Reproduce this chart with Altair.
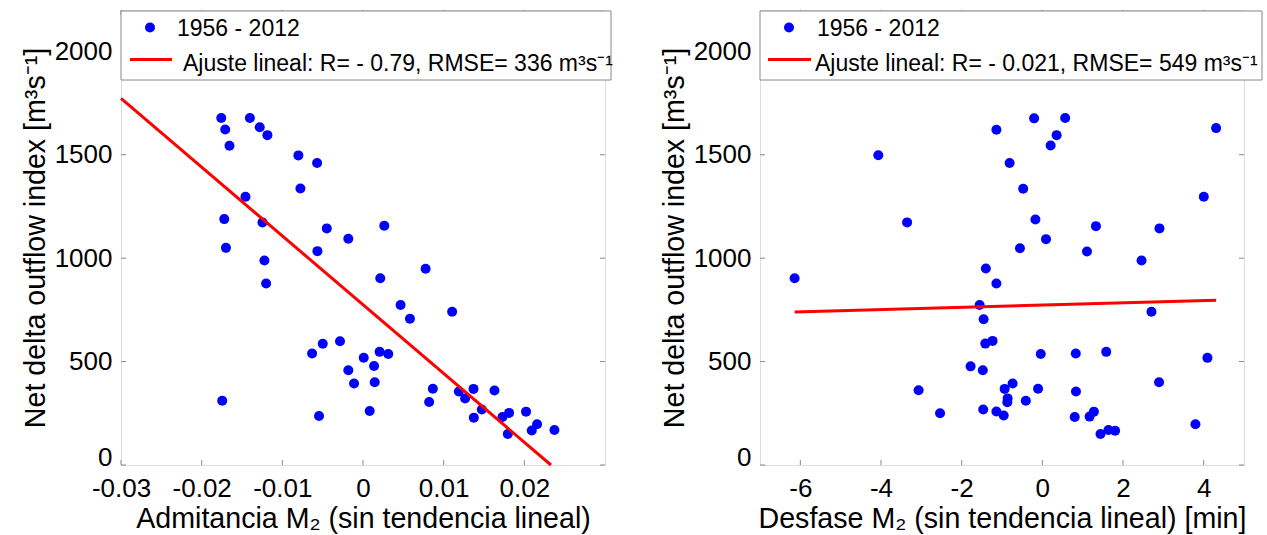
import altair as alt
import pandas as pd

# ---------------- data ----------------
adm_x = [-0.01757, -0.01708, -0.01655, -0.01402, -0.01280, -0.01185, -0.00801, -0.00569,
         -0.00776, -0.01457, -0.01720, -0.01246, -0.00449, -0.00182, -0.01699, -0.00565,
         -0.01222, -0.01201, 0.00264, 0.00214, 0.00776, 0.00466, 0.00582, 0.01105,
         -0.00631, -0.00499, -0.00285, 0.00009, 0.00206, 0.00313, -0.00182, 0.00137,
         -0.00111, 0.00145, -0.00545, 0.00083, 0.00866, 0.00820, 0.01188, 0.01266,
         0.01370, 0.01630, 0.01473, 0.01374, 0.01729, 0.01811, 0.02021, 0.01795,
         0.02092, 0.02158, 0.02373, -0.01745]
adm_y = [1678, 1622, 1544, 1678, 1633, 1595, 1497, 1460,
         1337, 1297, 1189, 1173, 1144, 1094, 1050, 1034,
         989, 878, 1157, 903, 949, 774, 707, 741,
         539, 586, 598, 519, 547, 537, 458, 479,
         394, 400, 237, 261, 369, 305, 355, 322,
         368, 360, 268, 229, 232, 252, 258, 150,
         167, 197, 169, 311]

des_x = [-1.139, -4.067, -3.353, -1.400, -1.139, -6.142, -1.555, -1.456,
         -1.414, -1.234, -1.779, -1.476, -3.068, -2.536, -0.737, -0.934,
         -0.860, -0.868, -1.466, -1.139, -0.958, -0.204, 0.566, 0.354,
         0.206, 4.308, -0.811, -0.475, 4.003, -0.172, 1.329, 2.904,
         0.091, -0.555, 1.107, 2.460, 2.706, -0.039, 0.829, 1.584,
         4.093, -0.409, -0.106, 0.834, 2.894, 0.803, 1.172, 1.278,
         1.442, 1.639, 1.804, 3.796]
des_y = [1621, 1498, 1173, 950, 878, 903, 774, 705,
         587, 600, 477, 458, 361, 250, 394, 368,
         322, 303, 268, 259, 239, 1676, 1678, 1595,
         1545, 1629, 1460, 1336, 1297, 1187, 1155, 1144,
         1092, 1048, 1032, 989, 741, 537, 539, 547,
         518, 311, 369, 355, 400, 232, 234, 258,
         150, 169, 166, 197]

# linear fits (end points of the drawn fit lines)
fit_adm_x = [-0.03, 0.0233]
fit_adm_y = [1773, 0]
fit_des_x = [-6.14, 4.31]
fit_des_y = [740, 797]

y_ticks = [0, 500, 1000, 1500, 2000]
adm_ticks = [-0.03, -0.02, -0.01, 0, 0.01, 0.02]
des_ticks = [-6, -4, -2, 0, 2, 4]

series_label = "1956 - 2012"
adm_fit_label = "Ajuste lineal: R= - 0.79, RMSE= 336 m\u00b3s\u207b\u00b9"
des_fit_label = "Ajuste lineal: R= - 0.021, RMSE= 549 m\u00b3s\u207b\u00b9"
y_title = "Net delta outflow index [m\u00b3s\u207b\u00b9]"
adm_title = "Admitancia M\u2082 (sin tendencia lineal)"
des_title = "Desfase M\u2082 (sin tendencia lineal) [min]"

# ---------------- styling ----------------
W, H = 484, 455
FONT = "Liberation Sans"
BLUE = "#0000ff"
RED = "#ff0000"
GRAY = "#888888"
TICK = 5
DOT = 100
MINUS_FIX = "replace(datum.label, '\u2212', '-')"


def panel(xs, ys, fx, fy, xdom, xticks, xfmt, xtitle, fit_label, box_w, leg):
    pts = pd.DataFrame({"x": xs, "y": ys})
    fit = pd.DataFrame({"x": fx, "y": fy})
    xscale = alt.Scale(domain=xdom, nice=False, zero=False)
    yscale = alt.Scale(domain=[0, 2200], nice=False, zero=False)

    xaxis = alt.Axis(values=xticks, format=xfmt, labelExpr=MINUS_FIX, ticks=False, tickSize=0,
                     domain=False, grid=False, labelFontSize=26, titleFontSize=28.6,
                     labelPadding=10, titlePadding=3, labelColor="black", titleColor="black",
                     labelFont=FONT, titleFont=FONT, titleFontWeight="normal",
                     labelFlush=False, labelOverlap=False)
    yaxis = alt.Axis(values=y_ticks, format="d", ticks=False, tickSize=0, domain=False, grid=False,
                     labelFontSize=26, titleFontSize=28.6, labelPadding=9, titlePadding=4,
                     labelColor="black", titleColor="black", labelFont=FONT, titleFont=FONT,
                     titleFontWeight="normal", labelOverlap=False,
                     labelBaseline={"condition": {"test": "datum.value === 0",
                                                  "value": "alphabetic"},
                                    "value": "middle"})

    X = alt.X("x:Q", scale=xscale, axis=xaxis, title=xtitle)
    Y = alt.Y("y:Q", scale=yscale, axis=yaxis, title=y_title)

    points = alt.Chart(pts).mark_circle(size=DOT, color=BLUE, opacity=1).encode(x=X, y=Y)
    line = alt.Chart(fit).mark_line(color=RED, strokeWidth=3).encode(x=X, y=Y)

    xt = pd.DataFrame({"x": xticks})
    yt = pd.DataFrame({"y": y_ticks})
    bottom = alt.Chart(xt).mark_rule(color=GRAY, strokeWidth=1).encode(
        x=X, y=alt.value(H), y2=alt.value(H - TICK))
    top = alt.Chart(xt).mark_rule(color=GRAY, strokeWidth=1).encode(
        x=X, y=alt.value(0), y2=alt.value(TICK))
    left = alt.Chart(yt).mark_rule(color=GRAY, strokeWidth=1).encode(
        y=Y, x=alt.value(0), x2=alt.value(TICK))
    right = alt.Chart(yt).mark_rule(color=GRAY, strokeWidth=1).encode(
        y=Y, x=alt.value(W - TICK), x2=alt.value(W))

    one = alt.Data(values=[{"k": 1}])
    lbox = alt.Chart(one).mark_rect(fill="white", stroke=GRAY, strokeWidth=1).encode(
        x=alt.value(0), x2=alt.value(box_w), y=alt.value(1), y2=alt.value(70))
    ldot = alt.Chart(one).mark_circle(size=DOT, color=BLUE, opacity=1).encode(
        x=alt.value(leg["dot_x"]), y=alt.value(17.5))
    ltxt1 = alt.Chart(one).mark_text(align="left", baseline="alphabetic", fontSize=23,
                                     font=FONT, color="black").encode(
        x=alt.value(leg["t1_x"]), y=alt.value(26), text=alt.value(series_label))
    lline = alt.Chart(one).mark_rule(color=RED, strokeWidth=3).encode(
        x=alt.value(leg["l_x1"]), x2=alt.value(leg["l_x2"]), y=alt.value(49.5))
    ltxt2 = alt.Chart(one).mark_text(align="left", baseline="alphabetic", fontSize=23,
                                     font=FONT, color="black").encode(
        x=alt.value(leg["t2_x"]), y=alt.value(61), text=alt.value(fit_label))

    return alt.layer(points, line, bottom, top, left, right,
                     lbox, ldot, ltxt1, lline, ltxt2).properties(width=W, height=H)


left_panel = panel(adm_x, adm_y, fit_adm_x, fit_adm_y, [-0.03, 0.03], adm_ticks, ".2~f",
                   adm_title, adm_fit_label, 490,
                   {"dot_x": 29, "t1_x": 56, "l_x1": 9, "l_x2": 51, "t2_x": 62})
right_panel = panel(des_x, des_y, fit_des_x, fit_des_y, [-7, 5], des_ticks, "d",
                    des_title, des_fit_label, 502,
                    {"dot_x": 29, "t1_x": 57, "l_x1": 8, "l_x2": 51, "t2_x": 55})

chart = alt.hconcat(left_panel, right_panel, spacing=155, bounds="flush").properties(
    padding={"left": 20, "top": 9, "right": 0, "bottom": 0}
).configure_view(stroke=GRAY, strokeWidth=1).configure(font=FONT)

chart.save("out.html", embed_options={"renderer": "svg", "actions": False})
